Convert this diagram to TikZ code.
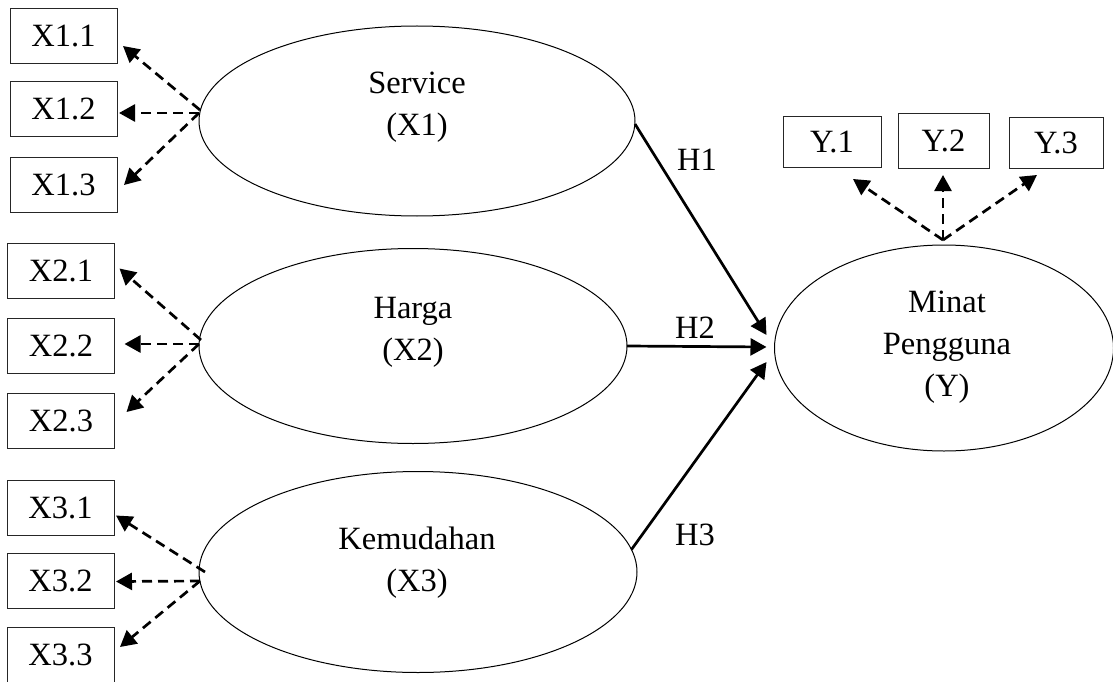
\documentclass[tikz,border=0pt]{standalone}
\usepackage{fontspec}
\setmainfont{Liberation Serif}
\usetikzlibrary{shapes.geometric,arrows.meta}
\begin{document}
\begin{tikzpicture}[x=1pt,y=-1pt,
  txt/.style={font=\fontsize{32.5}{42}\selectfont, align=center, inner sep=0pt},
  ind/.style={draw=black!85, line width=1pt, minimum width=107pt, minimum height=55pt, inner sep=0pt, outer sep=0pt, font=\fontsize{32.5}{36}\selectfont},
  lat/.style={draw, ellipse, line width=1pt, inner sep=0pt, outer sep=0pt},
  loadarrow/.style={line width=2.7pt, dash pattern=on 10pt off 6pt, -{Triangle[length=16pt,width=17pt]}},
  hyparrow/.style={line width=2.7pt, -{Triangle[length=16pt,width=17pt]}}
]
\useasboundingbox (0,0) rectangle (1113,682);

% latent variables
\node[lat, minimum width=436pt, minimum height=190pt] (sv) at (417,121) {};
\node[lat, minimum width=428pt, minimum height=195pt] (hg) at (413,346) {};
\node[lat, minimum width=438pt, minimum height=201pt] (km) at (418,572) {};
\node[lat, minimum width=339pt, minimum height=206pt] (mp) at (944,348) {};

\node[txt] (svt) at (417,107.5) {Service\\(X1)};
\node[txt] (hgt) at (413,332.5) {Harga\\(X2)};
\node[txt] (kmt) at (417,562.5) {Kemudahan\\(X3)};
\node[txt] (mpt) at (947,347) {Minat\\Pengguna\\(Y)};

% indicators
\node[ind] (x11) at (63.5,36) {X1.1};
\node[ind] (x12) at (63.5,109) {X1.2};
\node[ind] (x13) at (63.5,185) {X1.3};
\node[ind] (x21) at (61,270.5) {X2.1};
\node[ind] (x22) at (61,346) {X2.2};
\node[ind] (x23) at (61,421) {X2.3};
\node[ind] (x31) at (60.5,507.5) {X3.1};
\node[ind] (x32) at (60.5,580.5) {X3.2};
\node[ind] (x33) at (60.5,655) {X3.3};
\node[ind, minimum width=98pt, minimum height=50pt] (y1) at (832,142) {Y.1};
\node[ind, minimum width=91pt, minimum height=54pt] (y2) at (943.5,141) {Y.2};
\node[ind, minimum width=94pt, minimum height=50pt] (y3) at (1056,143) {Y.3};

% origins of loading arrows
\coordinate (o1) at (199,113);
\coordinate (o1a) at (200,110);
\coordinate (o2) at (199,344);
\coordinate (o2a) at (201,340);
\coordinate (o3) at (200,581);
\coordinate (o3a) at (205,572);
\coordinate (oy) at (943,240);

\draw[loadarrow] (o1a) -- ([xshift=6pt,yshift=-10pt]x11.east);
\draw[loadarrow] (o1) -- ([xshift=2pt,yshift=-4pt]x12.east);
\draw[loadarrow] (o1) -- ([xshift=7pt]x13.east);
\draw[loadarrow] (o2a) -- ([xshift=5pt,yshift=2pt]x21.east);
\draw[loadarrow] (o2) -- ([xshift=10pt,yshift=2pt]x22.east);
\draw[loadarrow] (o2) -- ([xshift=12pt,yshift=9pt]x23.east);
\draw[loadarrow] (o3a) -- ([xshift=2pt,yshift=-8pt]x31.east);
\draw[loadarrow] (o3) -- ([xshift=2pt,yshift=-1pt]x32.east);
\draw[loadarrow] (o3) -- ([xshift=6pt,yshift=8pt]x33.east);
\draw[loadarrow] (oy) -- ([xshift=21pt,yshift=-12pt]y1.south);
\draw[loadarrow] (oy) -- ([xshift=-0.5pt,yshift=-7pt]y2.south);
\draw[loadarrow] (oy) -- ([xshift=-19pt,yshift=-7pt]y3.south);

% hypotheses
\draw[hyparrow] ([yshift=-3pt]sv.east) -- ([xshift=-8pt,yshift=13pt]mp.west);
\draw[hyparrow] (hg.east) -- ([xshift=-8pt,yshift=1pt]mp.west);
\draw[hyparrow] (km.6.4) -- ([xshift=-8pt,yshift=-14pt]mp.west);

\node[txt] (h1) at (697,160) {H1};
\node[txt] (h2) at (695,328) {H2};
\node[txt] (h3) at (695,535) {H3};
\end{tikzpicture}
\end{document}
